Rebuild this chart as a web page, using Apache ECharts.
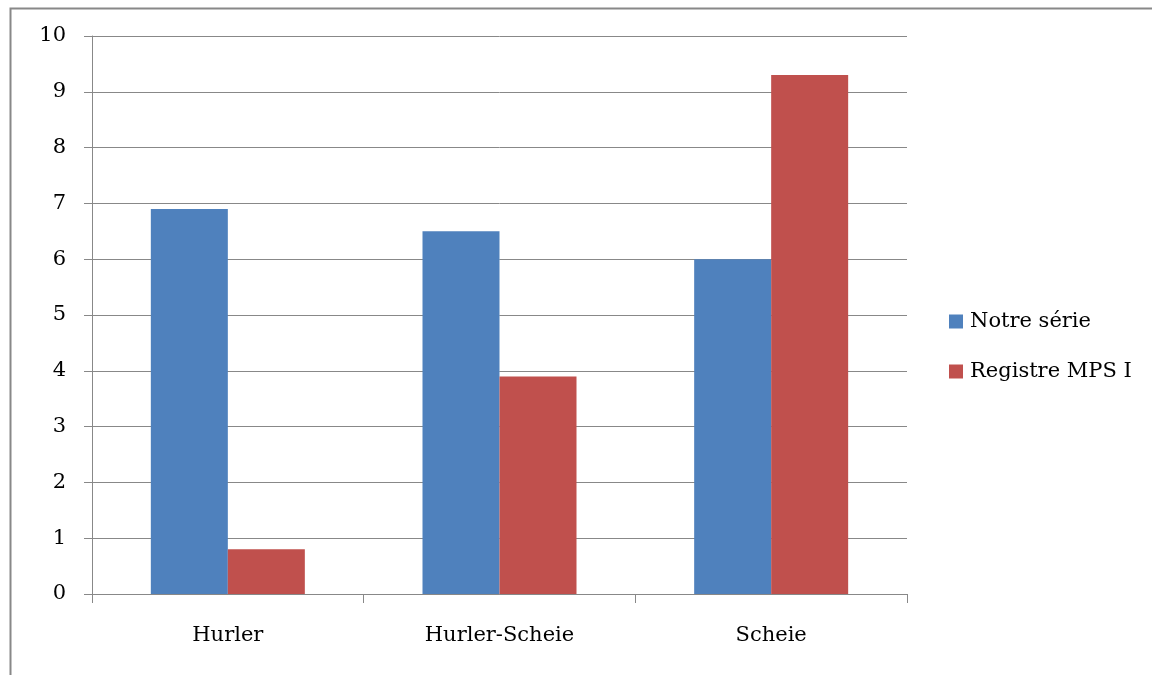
<!DOCTYPE html>
<html>
<head>
<meta charset="utf-8">
<script src="https://cdn.jsdelivr.net/npm/echarts@6/dist/echarts.min.js"></script>
<style>
	html, body { margin: 0; padding: 0; background: #fff; }
	#chart { width: 1152px; height: 675px; }
</style>
</head>
<body>
<div id="chart"></div>
<script>
	// données
	var categories = ['Hurler', 'Hurler-Scheie', 'Scheie'];
	var notreSerie = [6.9, 6.5, 6.0];
	var registreMPS = [0.8, 3.9, 9.3];
	var seriesNames = ['Notre série', 'Registre MPS I'];

	var police = 'DejaVu Serif';
	var gris = '#888888';

	var myChart = echarts.init(document.getElementById('chart'));

	var option = {
		animation: false,
		color: ['#4F81BD', '#C0504D'],
		textStyle: { fontFamily: police },
		// cadre extérieur (bord gauche et haut visibles)
		graphic: [{
			type: 'rect',
			left: 8,
			top: 6,
			shape: { x: 0, y: 0, width: 1300, height: 800 },
			style: { fill: 'none', stroke: gris, lineWidth: 2 },
			silent: true
		}],
		grid: {
			left: 92,
			right: 245,
			top: 36,
			bottom: 81
		},
		legend: {
			orient: 'vertical',
			left: 949,
			top: 311,
			padding: 0,
			itemWidth: 14,
			itemHeight: 14,
			itemGap: 29,
			icon: 'rect',
			textStyle: {
				fontFamily: police,
				fontSize: 21,
				color: '#000',
				lineHeight: 21,
				padding: [0, 0, 0, 2]
			},
			data: seriesNames
		},
		xAxis: {
			type: 'category',
			data: categories,
			axisLine: { lineStyle: { color: gris, width: 1 } },
			axisTick: { show: true, length: 9, alignWithLabel: false, lineStyle: { color: gris } },
			axisLabel: {
				margin: 31,
				fontFamily: police,
				fontSize: 21,
				color: '#000'
			}
		},
		yAxis: {
			type: 'value',
			min: 0,
			max: 10,
			interval: 1,
			axisLine: { show: true, lineStyle: { color: gris, width: 1 } },
			axisTick: { show: true, length: 8, lineStyle: { color: gris } },
			splitLine: { show: true, lineStyle: { color: gris, width: 1 } },
			axisLabel: {
				margin: 26,
				fontFamily: police,
				fontSize: 21,
				color: '#000',
				padding: [4, 0, 0, 0]
			}
		},
		series: [{
			name: seriesNames[0],
			type: 'bar',
			data: notreSerie,
			barWidth: 77,
			barGap: '0%'
		}, {
			name: seriesNames[1],
			type: 'bar',
			data: registreMPS,
			barWidth: 77,
			barGap: '0%'
		}]
	};

	myChart.setOption(option);
</script>
</body>
</html>
